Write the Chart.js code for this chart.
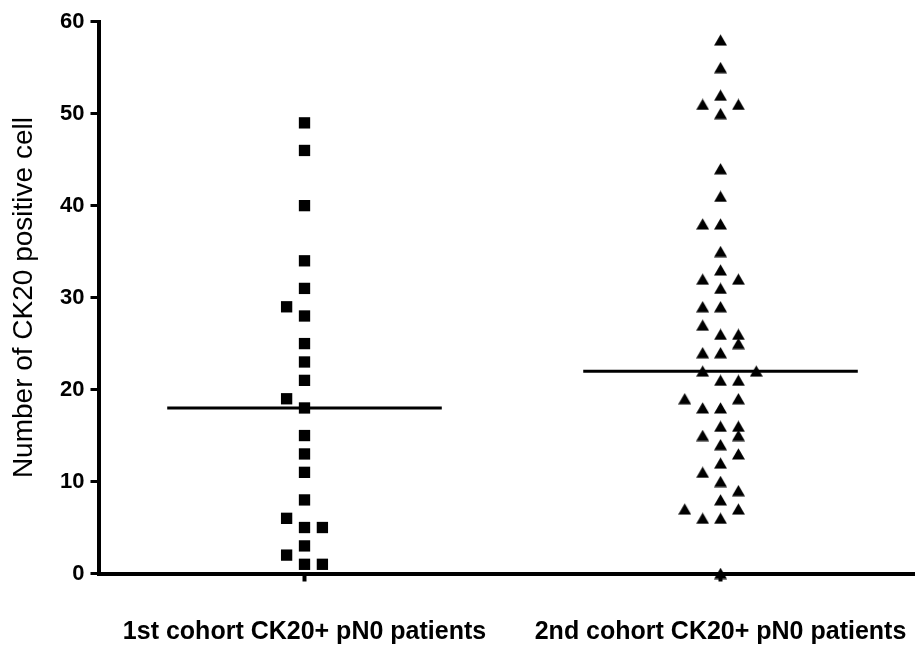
<!DOCTYPE html>
<html><head><meta charset="utf-8">
<script src="https://cdn.jsdelivr.net/npm/chart.js@4.4.1/dist/chart.umd.min.js"></script>
<style>html,body{margin:0;padding:0;background:#fff}#wrap{width:915px;height:647px;position:relative}</style>
</head><body><div id="wrap"><canvas id="c"></canvas></div>
<script>
const categories = ['1st cohort CK20+ pN0 patients', '2nd cohort CK20+ pN0 patients'];
const cohort1Values = [49,46,40,34,31,29,28,25,23,21,19,18,15,13,11,8,6,5,5,3,2,1,1];
const cohort1Columns = [0,0,0,0,0,-1,0,0,0,0,-1,0,0,0,0,0,-1,0,1,0,-1,0,1];
const cohort2Values = [58,55,52,51,51,50,44,41,38,38,35,33,32,32,31,29,29,27,26,26,25,24,24,22,22,21,21,19,19,18,18,16,16,15,15,14,13,12,11,10,9,8,7,7,6,6,0];
const cohort2Columns = [0,0,0,-1,1,0,0,0,-1,0,0,0,-1,1,0,-1,0,-1,0,1,1,-1,0,-1,2,0,1,-2,1,-1,0,0,1,-1,1,0,1,0,-1,0,1,0,-2,1,-1,0,0];
const yTicks = [0,10,20,30,40,50,60];
const yAxisTitle = 'Number of CK20 positive cell';

const FONT = "'Liberation Sans', Arial, Helvetica, sans-serif";
const COL_STEP = 0.043;
const HALF_LINE = 0.33;

function median(arr){
  const s = [...arr].sort((a,b)=>a-b);
  const m = Math.floor(s.length/2);
  return s.length % 2 ? s[m] : (s[m-1]+s[m])/2;
}
function toPoints(values, cols, group){
  return values.map((v,i)=>({x: group + cols[i]*COL_STEP, y: v}));
}
function makeTriangle(){
  const c = document.createElement('canvas');
  c.width = 13; c.height = 12;
  const g = c.getContext('2d');
  g.fillStyle = '#000';
  g.beginPath();
  g.moveTo(6.5, 0.2); g.lineTo(13, 11.6); g.lineTo(0, 11.6);
  g.closePath(); g.fill();
  return c;
}
const tri = makeTriangle();
const med1 = median(cohort1Values), med2 = median(cohort2Values);

new Chart(document.getElementById('c'), {
  type: 'scatter',
  data: {
    datasets: [
      { label: categories[0], data: toPoints(cohort1Values, cohort1Columns, 1),
        pointStyle: 'rect', pointRadius: 8, pointHoverRadius: 8,
        backgroundColor: '#000', borderColor: '#000', borderWidth: 0, clip: false },
      { label: categories[1], data: toPoints(cohort2Values, cohort2Columns, 2),
        pointStyle: tri, pointRadius: 7, pointHoverRadius: 7,
        backgroundColor: '#000', borderColor: '#000', borderWidth: 0, clip: false },
      { label: 'median 1', data: [{x:1-HALF_LINE,y:med1},{x:1+HALF_LINE,y:med1}],
        showLine: true, pointRadius: 0, borderColor: '#000', borderWidth: 3, clip: false },
      { label: 'median 2', data: [{x:2-HALF_LINE,y:med2},{x:2+HALF_LINE,y:med2}],
        showLine: true, pointRadius: 0, borderColor: '#000', borderWidth: 3, clip: false }
    ]
  },
  options: {
    responsive: true, maintainAspectRatio: false, animation: false,
    layout: { autoPadding: false, padding: { top: 21.7, right: 0, left: 0, bottom: 0 } },
    plugins: { legend: { display: false }, tooltip: { enabled: false } },
    scales: {
      x: {
        type: 'linear', min: 0.50481, max: 2.4675,
        afterBuildTicks: s => { s.ticks = [{value:1},{value:2}]; },
        afterFit: s => { s.height = 73.5; s.paddingLeft = 0; s.paddingRight = 0; },
        ticks: { callback: v => categories[Math.round(v)-1], color: '#000',
          font: { family: FONT, size: 25, weight: 'bold' }, padding: 36,
          maxRotation: 0, minRotation: 0, autoSkip: false },
        grid: { drawOnChartArea: false, drawTicks: true, tickLength: 8, tickWidth: 4, tickColor: '#000' },
        border: { display: true, width: 4, color: '#000' }
      },
      y: {
        min: 0, max: 60,
        afterBuildTicks: s => { s.ticks = yTicks.map(v=>({value:v})); },
        afterFit: s => { s.width = 98.5; s.paddingTop = 0; s.paddingBottom = 0; },
        ticks: { color: '#000', font: { family: FONT, size: 22, weight: 'bold' }, padding: 6 },
        grid: { drawOnChartArea: false, drawTicks: true, tickLength: 8, tickWidth: 3, tickColor: '#000' },
        border: { display: true, width: 4, color: '#000' },
        title: { display: true, text: yAxisTitle, color: '#000',
          font: { family: FONT, size: 28, weight: 'normal' }, padding: { top: 7, bottom: 0 } }
      }
    }
  }
});
</script>
</body></html>
